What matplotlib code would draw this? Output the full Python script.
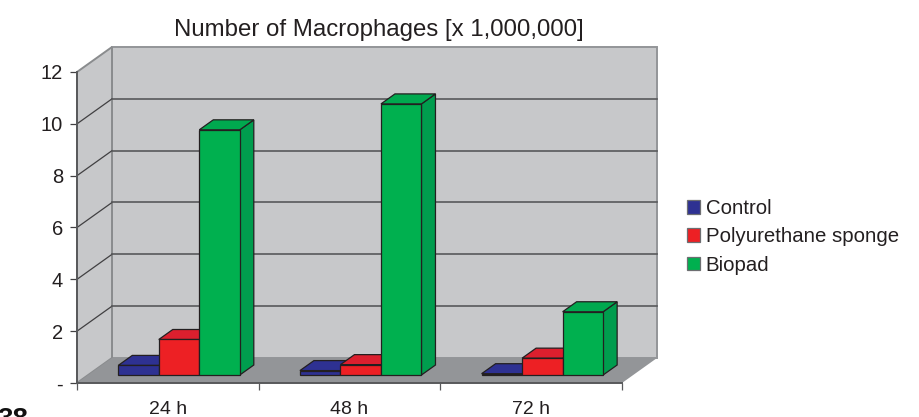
import matplotlib
matplotlib.use("Agg")
import matplotlib.pyplot as plt
from matplotlib.patches import Polygon, Patch

plt.rcParams['font.family'] = ['Liberation Sans', 'DejaVu Sans']

categories = ["24 h", "48 h", "72 h"]
series_names = ["Control", "Polyurethane sponge", "Biopad"]
control = [0.37, 0.17, 0.05]
polyurethane = [1.37, 0.40, 0.65]
biopad = [9.46, 10.46, 2.44]
all_series = [control, polyurethane, biopad]
y_ticks = [0, 2, 4, 6, 8, 10, 12]
y_labels = ["-", "2", "4", "6", "8", "10", "12"]

front_colors = ["#2e3192", "#ed2024", "#00b04f"]
top_colors = ["#2e3192", "#dc1f2e", "#00a94f"]
side_colors = ["#27307f", "#c8202c", "#009d4e"]
wall = "#c7c8ca"
floor = "#939598"

W, H = 919, 417
fig = plt.figure(figsize=(W / 100, H / 100), dpi=100)
L, R, T, B = 77, 622, 72, 383
ax = fig.add_axes([L / W, 1 - B / H, (R - L) / W, (B - T) / H])
ax.set_xlim(0, len(categories))
ax.set_ylim(0, 12)
ax.patch.set_visible(False)

depth_x = 35 / ((R - L) / 3)
depth_y = 25 / ((B - T) / 12)


def pr(x, y, z):
    return (x + z * depth_x, y + z * depth_y)


def poly(pts, fc, ec, lw, zorder):
    ax.add_patch(Polygon([pr(*p) for p in pts], closed=True, facecolor=fc,
                         edgecolor=ec, linewidth=lw, zorder=zorder,
                         clip_on=False, joinstyle='miter'))


n = len(categories)
ymax = y_ticks[-1]
# walls and floor
poly([(0, 0, 1), (n, 0, 1), (n, ymax, 1), (0, ymax, 1)], wall, "#939598", 1.4, 1)
poly([(0, 0, 0), (0, 0, 1), (0, ymax, 1), (0, ymax, 0)], wall, "#8a8c8e", 1.4, 1)
poly([(0, 0, 0), (n, 0, 0), (n, 0, 1), (0, 0, 1)], floor, "none", 0, 1.5)
# gridlines
for t in y_ticks[1:-1]:
    xs, ys = zip(pr(0, t, 0), pr(0, t, 1), pr(n, t, 1))
    ax.plot(xs[:2], ys[:2], color="#414042", lw=0.9, zorder=2, clip_on=False)
    ax.plot(xs[1:], ys[1:], color="#58595b", lw=1.2, zorder=2, clip_on=False)

# bars
bw = 0.223
z0, z1 = 0.32, 0.72
start = 0.5 - 1.5 * bw
edge = "#231f20"
for c in range(n):
    for s, vals in enumerate(all_series):
        v = vals[c]
        x0 = c + start + s * bw
        x1 = x0 + bw
        zo = 3 + s * 0.1 + c
        poly([(x1, 0, z0), (x1, 0, z1), (x1, v, z1), (x1, v, z0)], side_colors[s], edge, 0.9, zo)
        poly([(x0, v, z0), (x1, v, z0), (x1, v, z1), (x0, v, z1)], top_colors[s], edge, 0.9, zo)
        poly([(x0, 0, z0), (x1, 0, z0), (x1, v, z0), (x0, v, z0)], front_colors[s], edge, 0.9, zo + 0.01)

# axes
for side in ("top", "right"):
    ax.spines[side].set_visible(False)
for side in ("left", "bottom"):
    ax.spines[side].set_color("#58595b")
    ax.spines[side].set_linewidth(1.4)
    ax.spines[side].set_zorder(2.5)
ax.set_yticks(y_ticks)
ax.set_yticklabels(y_labels, fontsize=14.5, color="#231f20")
ax.set_xticks(range(n + 1))
ax.set_xticklabels([])
ax.set_xticks([i + 0.5 for i in range(n)], minor=True)
ax.set_xticklabels(categories, minor=True, fontsize=14, color="#231f20")
ax.tick_params(axis='x', which='minor', length=0, pad=13)
ax.tick_params(axis='x', which='major', length=5, width=0.9, color="#58595b")
ax.tick_params(axis='y', length=5, width=0.9, color="#414042", pad=5)

fig.text(378.5 / W, 1 - 30 / H, "Number of Macrophages [x 1,000,000]", fontsize=17.3,
         ha='center', va='center', color="#231f20")

handles = [Patch(facecolor=front_colors[i], edgecolor="#6d6e71", linewidth=0.9, label=series_names[i])
           for i in range(3)]
fig.legend(handles=handles, loc='upper left', bbox_to_anchor=(687 / W, 1 - 199 / H),
           frameon=False, fontsize=14.7, handlelength=0.64, handleheight=0.64,
           handletextpad=0.28, labelspacing=0.46, borderaxespad=0, borderpad=0,
           labelcolor="#231f20")

fig.text(-3 / W, 1 - 427 / H, "38", fontsize=20, fontweight='bold', color="#111111",
         ha='left', va='baseline')

fig.savefig("out.png", dpi=100, facecolor="white")
